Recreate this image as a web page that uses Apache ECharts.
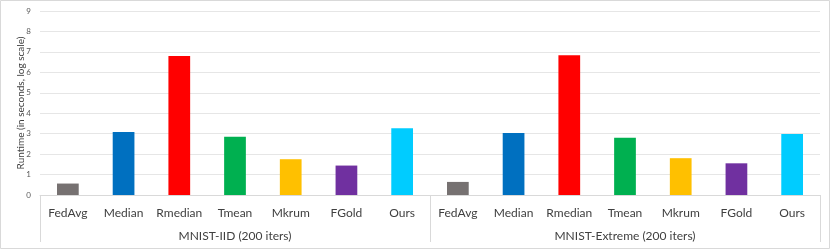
<!DOCTYPE html>
<html><head><meta charset="utf-8">
<script src="https://cdn.jsdelivr.net/npm/echarts@6/dist/echarts.min.js"></script>
<style>html,body{margin:0;padding:0;background:#fff}#c{width:830px;height:250px}</style>
</head><body><div id="c"></div>
<script>
const methods = ['FedAvg','Median','Rmedian','Tmean','Mkrum','FGold','Ours'];
const groups = ['MNIST-IID (200 iters)','MNIST-Extreme (200 iters)'];
const iidValues = [0.56, 3.08, 6.80, 2.85, 1.75, 1.44, 3.26];
const extremeValues = [0.64, 3.03, 6.84, 2.80, 1.80, 1.55, 2.98];
const yTicks = [0,1,2,3,4,5,6,7,8,9];
const methodColors = ['#767171','#0070c0','#ff0000','#00b050','#ffc000','#7030a0','#00ccff'];

const categories = methods.concat(methods);
const values = iidValues.concat(extremeValues);
const barData = values.map((v,i)=>({value:v,itemStyle:{color:methodColors[i%methods.length]}}));
const font = 'Lato, "Open Sans", sans-serif';

const chart = echarts.init(document.getElementById('c'), null, {renderer:'canvas'});
chart.setOption({
  animation:false,
  textStyle:{fontFamily:font},
  graphic:[{type:'rect',shape:{x:0.5,y:0.5,width:829,height:248},style:{fill:'none',stroke:'#d9d9d9',lineWidth:1},silent:true}],
  grid:{left:40,right:10,top:11,bottom:55},
  xAxis:[
    {type:'category',data:categories,position:'bottom',
     axisLine:{show:true,lineStyle:{color:'#d9d9d9'}},axisTick:{show:false},
     axisLabel:{color:'#404040',fontSize:12,margin:12,interval:0,fontFamily:font}},
    {type:'category',data:groups,position:'bottom',boundaryGap:true,
     axisLine:{show:false},axisTick:{show:true,length:47,lineStyle:{color:'#d9d9d9'}},
     axisLabel:{color:'#404040',fontSize:12,margin:35,interval:0,fontFamily:font}}
  ],
  yAxis:{type:'value',min:yTicks[0],max:yTicks[yTicks.length-1],interval:1,
    name:'Runtime (in seconds, log scale)',nameLocation:'middle',nameGap:14,nameRotate:90,
    nameMoveOverlap:false,
    nameTextStyle:{color:'#404040',fontSize:10,fontFamily:font},
    axisLine:{show:false},axisTick:{show:false},
    axisLabel:{color:'#595959',fontSize:8,margin:9,fontFamily:font},
    splitLine:{lineStyle:{color:'#e6e6e6',width:1}}},
  series:[{type:'bar',xAxisIndex:0,data:barData,barWidth:'39%'}]
});
</script></body></html>
